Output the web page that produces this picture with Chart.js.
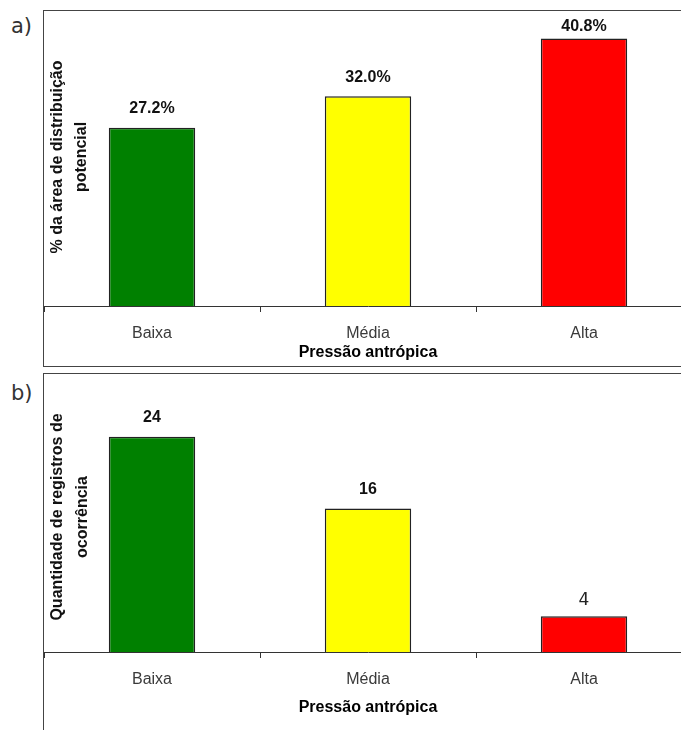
<!DOCTYPE html>
<html>
<head>
<meta charset="utf-8">
<script src="https://cdn.jsdelivr.net/npm/chart.js@4.4.1/dist/chart.umd.min.js"></script>
<style>
  body { margin: 0; width: 681px; height: 730px; overflow: hidden; background: #fff; position: relative; }
  .box { position: absolute; left: 43px; width: 700px; border: 1px solid #444; border-right: none; }
  .tag { position: absolute; left: 11px; font-family: "DejaVu Sans", sans-serif; font-size: 21px; color: #333; }
  canvas { position: absolute; left: 44px; }
</style>
</head>
<body>
<div class="box" style="top:10px;height:355px"></div>
<div class="box" style="top:373px;height:400px"></div>
<div class="tag" style="top:14px">a)</div>
<div class="tag" style="top:381px">b)</div>
<canvas id="chartA" width="648" height="354" style="top:11px"></canvas>
<canvas id="chartB" width="648" height="356" style="top:374px"></canvas>
<script>
// categorias e valores
const categories = ['Baixa', 'Média', 'Alta'];
const areaPercent = [27.2, 32.0, 40.8];
const recordCounts = [24, 16, 4];
const barColors = ['#008000', '#ffff00', '#ff0000'];
const xTitle = 'Pressão antrópica';
const yTitleA = ['% da área de distribuição', 'potencial'];
const yTitleB = ['Quantidade de registros de', 'ocorrência'];

// rótulos dos valores em cima das barras + título do eixo y dentro da área
const barText = {
    id: 'barText',
    afterDatasetsDraw(chart, args, opts) {
        const ctx = chart.ctx;
        const meta = chart.getDatasetMeta(0);
        ctx.save();
        ctx.textAlign = 'center';
        ctx.textBaseline = 'middle';
        meta.data.forEach((bar, i) => {
            const st = opts.styles ? opts.styles[i] : null;
            ctx.font = st && st.font ? st.font : 'bold 16px "Liberation Sans", Arial, sans-serif';
            ctx.fillStyle = st && st.color ? st.color : '#111';
            ctx.fillText(opts.format(chart.data.datasets[0].data[i]), bar.x, bar.y - (st ? st.gap : 19));
        });
        // título do eixo y
        ctx.font = 'bold 16px "Liberation Sans", Arial, sans-serif';
        ctx.fillStyle = '#111';
        opts.yTitle.forEach((line, k) => {
            ctx.save();
            ctx.translate(opts.yX[k], opts.yCenter);
            ctx.rotate(-Math.PI / 2);
            ctx.fillText(line, 0, 0);
            ctx.restore();
        });
        ctx.restore();
    }
};

function makeChart(id, values, yMax, xHeight, titlePad, pluginOpts) {
    return new Chart(document.getElementById(id).getContext('2d'), {
        type: 'bar',
        data: {
            labels: categories,
            datasets: [{
                data: values,
                backgroundColor: barColors,
                borderColor: '#222',
                borderWidth: 1.5,
                categoryPercentage: 1,
                barPercentage: 0.4
            }]
        },
        options: {
            responsive: false,
            animation: false,
            devicePixelRatio: 1,
            layout: { padding: 0 },
            plugins: {
                legend: { display: false },
                tooltip: { enabled: false },
                barText: pluginOpts
            },
            scales: {
                y: { display: false, min: 0, max: yMax },
                x: {
                    afterFit: (scale) => { scale.height = xHeight; },
                    grid: { display: true, drawOnChartArea: false, tickLength: 6, color: '#333' },
                    border: { display: true, color: '#333', width: 1 },
                    ticks: { color: '#3a3a3a', padding: 12, font: { family: '"Liberation Sans", Arial, sans-serif', size: 16 } },
                    title: {
                        display: true,
                        text: xTitle,
                        color: '#000',
                        padding: { top: 0, bottom: titlePad },
                        font: { family: '"Liberation Sans", Arial, sans-serif', size: 16, weight: 'bold' }
                    }
                }
            }
        },
        plugins: [barText]
    });
}

window.onload = () => {
    makeChart('chartA', areaPercent, 45, 59, 3, {
        format: (v) => v.toFixed(1) + '%',
        styles: [null, null, { gap: 12 }],
        yTitle: yTitleA, yX: [14, 38], yCenter: 146
    });
    makeChart('chartB', recordCounts, 31, 78, 13, {
        format: (v) => String(v),
        styles: [null, null, { font: '17px "DejaVu Sans", sans-serif', color: '#222', gap: 16 }],
        yTitle: yTitleB, yX: [14, 39], yCenter: 143
    });
};
</script>
</body>
</html>
